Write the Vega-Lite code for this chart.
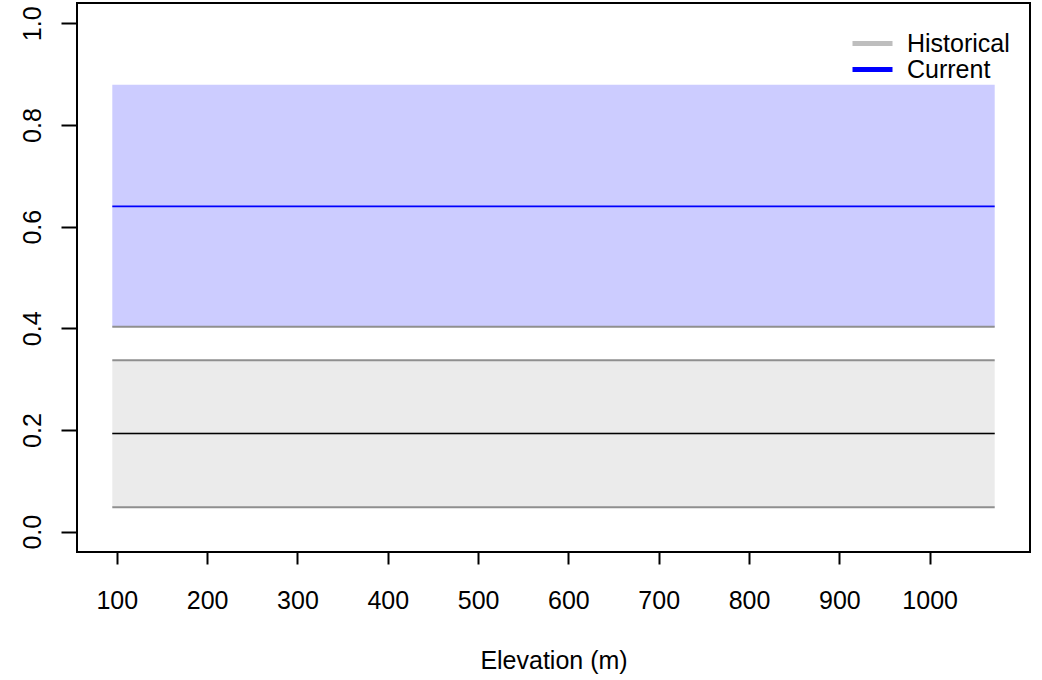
{
  "$schema": "https://vega.github.io/schema/vega-lite/v6.json",
  "width": 953,
  "height": 549,
  "autosize": {"type": "none"},
  "padding": {"left": 77, "top": 3, "right": 12, "bottom": 128},
  "background": "white",
  "datasets": {
    "bands": [
      {"series": "Historical", "x0": 95, "x1": 1072, "lo": 0.048, "mid": 0.193, "hi": 0.337},
      {"series": "Current", "x0": 95, "x1": 1072, "lo": 0.403, "mid": 0.640, "hi": 0.879}
    ],
    "edges": [
      {"x0": 95, "x1": 1072, "y": 0.403},
      {"x0": 95, "x1": 1072, "y": 0.337},
      {"x0": 95, "x1": 1072, "y": 0.048}
    ]
  },
  "config": {
    "font": "Liberation Sans",
    "view": {"stroke": "black", "strokeWidth": 2},
    "axis": {
      "grid": false,
      "domain": false,
      "ticks": true,
      "tickColor": "black",
      "tickWidth": 2,
      "labelColor": "black",
      "labelFont": "Liberation Sans",
      "labelFontSize": 25,
      "titleFont": "Liberation Sans",
      "titleFontSize": 25,
      "titleFontWeight": "normal",
      "titleColor": "black",
      "labelFlush": false,
      "labelOverlap": false
    },
    "axisX": {"tickSize": 12, "labelPadding": 44, "labelBaseline": "alphabetic"},
    "axisY": {"tickSize": 16, "labelPadding": 21, "labelAngle": -90, "labelAlign": "center", "labelBaseline": "alphabetic"}
  },
  "layer": [
    {
      "data": {"name": "bands"},
      "transform": [{"filter": "datum.series === 'Historical'"}],
      "mark": {"type": "rect", "fill": "#EBEBEB"},
      "encoding": {
        "x": {"field": "x0", "type": "quantitative", "scale": {"domain": [55.92, 1111.08], "nice": false, "zero": false},
              "axis": {"values": [100, 200, 300, 400, 500, 600, 700, 800, 900, 1000], "format": "d", "title": "Elevation (m)", "titleY": 116, "titleBaseline": "alphabetic"}},
        "x2": {"field": "x1"},
        "y": {"field": "lo", "type": "quantitative", "scale": {"domain": [-0.04, 1.04], "nice": false, "zero": false},
              "axis": {"values": [0, 0.2, 0.4, 0.6, 0.8, 1.0], "format": ".1f", "title": null}},
        "y2": {"field": "hi"}
      }
    },
    {
      "data": {"name": "bands"},
      "transform": [{"filter": "datum.series === 'Current'"}],
      "mark": {"type": "rect", "fill": "#CCCCFF"},
      "encoding": {
        "x": {"field": "x0", "type": "quantitative"},
        "x2": {"field": "x1"},
        "y": {"field": "lo", "type": "quantitative"},
        "y2": {"field": "hi"}
      }
    },
    {
      "data": {"name": "edges"},
      "mark": {"type": "rule", "color": "#8f8f8f", "strokeWidth": 2},
      "encoding": {
        "x": {"field": "x0", "type": "quantitative"},
        "x2": {"field": "x1"},
        "y": {"field": "y", "type": "quantitative"}
      }
    },
    {
      "data": {"name": "bands"},
      "mark": {"type": "rule", "strokeWidth": 1.6},
      "encoding": {
        "x": {"field": "x0", "type": "quantitative"},
        "x2": {"field": "x1"},
        "y": {"field": "mid", "type": "quantitative"},
        "stroke": {
          "field": "series",
          "type": "nominal",
          "scale": {"domain": ["Historical", "Current"], "range": ["#BEBEBE", "#0000FF"]},
          "legend": {
            "title": null,
            "orient": "none",
            "legendX": 783,
            "legendY": 28,
            "direction": "vertical",
            "symbolType": "M-2.5,0H2.5",
            "symbolSize": 256,
            "symbolStrokeWidth": 5,
            "labelOffset": 22,
            "labelFontSize": 25,
            "labelColor": "black",
            "labelFont": "Liberation Sans",
            "rowPadding": 0,
            "padding": 0
          }
        }
      }
    },
    {
      "data": {"name": "bands"},
      "transform": [{"filter": "datum.series === 'Historical'"}],
      "mark": {"type": "rule", "strokeWidth": 1.6, "color": "black"},
      "encoding": {
        "x": {"field": "x0", "type": "quantitative"},
        "x2": {"field": "x1"},
        "y": {"field": "mid", "type": "quantitative"}
      }
    }
  ]
}
